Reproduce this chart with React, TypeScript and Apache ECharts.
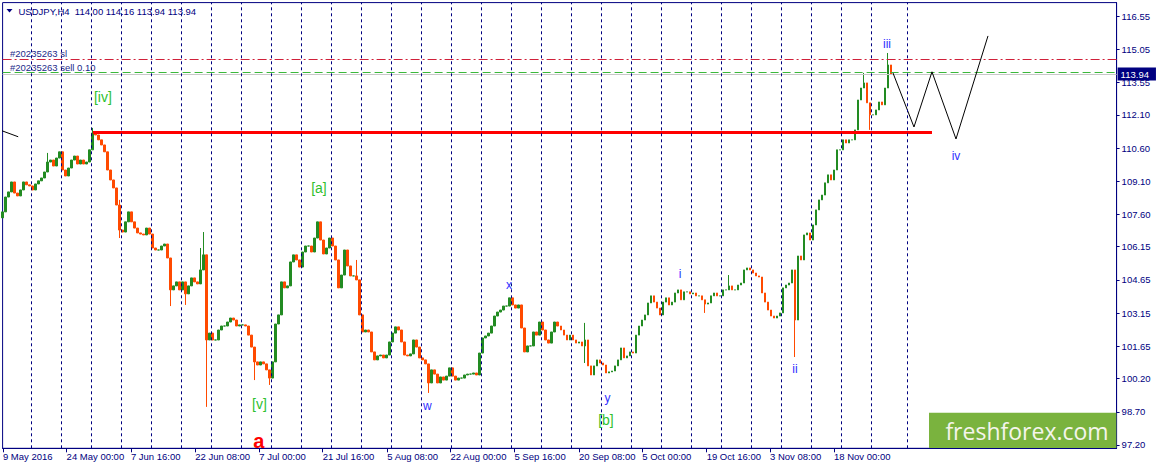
import React, { useEffect, useRef } from "react";
import * as echarts from "echarts";

// USDJPY H4 closes, one value per 3 H4 bars (12 hours) starting 9 May 2016
const closes: number[] = [
  107.72, 108.39, 108.62, 109.07, 108.57, 108.44, 108.71, 109.07, 108.94, 108.89,
  108.71, 108.98, 109.12, 109.25, 109.52, 109.97, 110.06, 109.79, 110.15, 110.43,
  109.61, 109.34, 109.70, 110.06, 110.24, 109.88, 110.06, 109.88, 109.97, 110.52,
  111.28, 111.19, 110.97, 110.74, 110.43, 109.61, 109.16, 108.80, 108.03, 106.90,
  106.81, 107.27, 107.72, 107.27, 106.99, 106.77, 106.72, 106.68, 106.99, 106.72,
  106.09, 106.00, 106.00, 106.18, 106.27, 105.64, 104.20, 104.38, 104.56, 104.20,
  104.56, 104.02, 104.38, 104.74, 104.56, 104.47, 105.10, 105.78, 101.94, 102.25,
  101.94, 101.94, 102.39, 102.57, 102.57, 102.75, 102.93, 102.84, 102.57, 102.62,
  102.62, 102.57, 102.16, 101.62, 100.95, 100.81, 100.95, 100.86, 100.59, 100.22,
  100.95, 102.66, 103.07, 104.56, 104.29, 104.38, 105.46, 105.78, 105.55, 105.23,
  105.91, 106.18, 106.18, 105.91, 106.54, 107.27, 106.45, 105.82, 106.09, 106.54,
  106.18, 105.55, 104.29, 104.87, 106.00, 105.28, 104.83, 104.83, 104.65, 103.07,
  102.30, 102.39, 102.30, 101.40, 101.04, 101.22, 101.26, 101.13, 101.26, 101.85,
  102.25, 102.53, 102.39, 101.85, 101.26, 101.22, 101.31, 101.94, 101.62, 101.13,
  101.04, 100.86, 100.00, 100.59, 100.40, 100.00, 100.27, 100.13, 100.31, 100.68,
  100.31, 100.13, 100.22, 100.22, 100.36, 100.40, 100.40, 100.45, 100.36, 101.35,
  102.03, 102.12, 102.25, 102.57, 103.02, 103.20, 103.29, 103.47, 103.47, 103.84,
  103.52, 103.38, 103.52, 102.48, 101.40, 101.67, 101.67, 102.30, 102.16, 102.75,
  102.39, 101.94, 101.80, 102.30, 102.75, 102.57, 102.39, 102.16, 101.94, 102.16,
  101.94, 101.80, 101.85, 101.67, 101.94, 100.77, 100.36, 100.77, 101.04, 100.90,
  100.81, 100.45, 100.50, 100.54, 100.77, 101.04, 101.58, 101.13, 101.22, 101.40,
  101.35, 102.16, 102.57, 102.84, 103.07, 103.61, 103.93, 103.65, 103.38, 103.07,
  103.65, 103.84, 103.52, 103.65, 104.06, 104.20, 103.75, 104.11, 104.11, 104.02,
  104.06, 103.93, 103.93, 103.75, 103.56, 103.61, 103.93, 104.06, 103.93, 103.93,
  104.20, 104.20, 104.38, 104.20, 104.20, 104.42, 104.51, 105.10, 105.19, 105.10,
  104.96, 104.83, 104.78, 104.06, 103.65, 103.29, 103.02, 102.93, 103.02, 103.16,
  104.29, 104.42, 104.51, 105.10, 102.84, 105.73, 105.55, 106.68, 106.77, 106.45,
  107.13, 107.81, 108.26, 108.48, 109.03, 109.39, 109.16, 109.61, 110.52, 110.52,
  110.97, 110.83, 110.97, 110.97, 111.42, 112.77, 113.31, 113.54, 112.64, 112.10,
  112.10, 112.32, 112.68, 112.55, 113.31, 114.35, 113.94,
];
const firstOpen = 107.45;
// [sample index, extreme price]
const wickHighs: [number, number][] = [
  [15, 110.38], [30, 111.51], [39, 108.26], [66, 106.09], [67, 106.81], [118, 105.55],
  [194, 102.71], [242, 104.87], [287, 113.99], [295, 114.89],
];
const wickLows: [number, number][] = [
  [39, 106.54], [56, 103.47], [61, 103.52], [68, 98.92], [84, 100.13], [89, 99.91],
  [142, 99.55], [194, 100.9], [234, 103.16], [264, 101.17], [289, 111.42],
];

const dateLabels = [
  "9 May 2016", "24 May 00:00", "7 Jun 16:00", "22 Jun 08:00", "7 Jul 00:00",
  "21 Jul 16:00", "5 Aug 08:00", "22 Aug 00:00", "5 Sep 16:00", "20 Sep 08:00",
  "5 Oct 00:00", "19 Oct 16:00", "3 Nov 08:00", "18 Nov 00:00",
];
const dateTicks = [3, 66.7, 131, 195.3, 259.3, 322.7, 387.3, 450.5, 514.5, 579, 642.3, 706.7, 770, 834];
const priceTicks = [97.2, 98.7, 100.2, 101.65, 103.15, 104.65, 106.15, 107.6, 109.1, 110.6, 112.1, 113.55, 115.05, 116.55];

const slPrice = 114.61;
const entryPrice = 114.0;
const bidPrice = 113.94;
const supportPrice = 111.3;
const supportFrom = 93;
const supportTo = 932;
const projTimes = [893, 914, 932, 956, 988];
const projPrices = [113.99, 111.55, 114.04, 111.01, 115.66];
const oldTrendTimes = [-10, 18.3];
const oldTrendPrices = [111.58, 111.11];

const waveTexts = ["[iv]", "[a]", "[v]", "[b]", "a", "w", "x", "y", "i", "ii", "iii", "iv"];
const waveTimes = [103, 319, 259.5, 606, 259, 427.5, 509, 607.5, 680, 795, 887, 956];
const wavePrices = [112.91, 108.8, 99.03, 98.33, 97.38, 98.96, 104.42, 99.32, 104.92, 100.63, 115.3, 110.24];
const waveKinds = ["g", "g", "g", "g", "r", "b", "b", "b", "b", "b", "b", "b"];

const NAVY = "#000080";
const FONT = "'Liberation Sans', Arial, sans-serif";

export default function App() {
  const ref = useRef<HTMLDivElement>(null);
  useEffect(() => {
    if (!ref.current) return;
    const chart = echarts.init(ref.current, undefined, { renderer: "svg" });

    const START = 3;
    const STEP = 3;
    const hiMap = new Map(wickHighs);
    const loMap = new Map(wickLows);
    const candles = closes.map((c, i) => {
      const o = i === 0 ? firstOpen : closes[i - 1];
      let h = Math.max(o, c);
      let l = Math.min(o, c);
      if (hiMap.has(i)) h = Math.max(h, hiMap.get(i) as number);
      if (loMap.has(i)) l = Math.min(l, loMap.get(i) as number);
      return [START + STEP * i, o, c, l, h];
    });

    const seps: number[] = [];
    for (let k = 1; k <= 29; k++) seps.push(1.5 + 30 * k);
    seps.push(907.5);

    const colorOf = (k: string) => (k === "g" ? "#2fbf2f" : k === "r" ? "#ff0000" : "#3030ff");
    const sizeOf = (k: string) => (k === "g" ? 14 : k === "r" ? 20 : 12);

    const option: any = {
      animation: false,
      backgroundColor: "#ffffff",
      grid: {
        left: 2.6, right: 39.4, top: 2.6, bottom: 20.7,
        show: true, borderColor: NAVY, borderWidth: 1,
        outerBoundsMode: "none", containLabel: false,
      },
      xAxis: {
        type: "value", min: 2.7, max: 1116.6,
        axisLine: { show: true, lineStyle: { color: NAVY } },
        axisTick: { show: true, customValues: dateTicks, length: 4, lineStyle: { color: NAVY } },
        axisLabel: {
          customValues: dateTicks, align: "left", margin: 3, color: NAVY, fontSize: 9.5, fontFamily: FONT,
          formatter: (v: number) => {
            const k = dateTicks.findIndex((t) => Math.abs(t - v) < 0.01);
            return k >= 0 ? dateLabels[k] : "";
          },
        },
        splitLine: { show: false },
      },
      yAxis: {
        type: "value", position: "right", min: 97.051, max: 117.164, scale: true,
        axisLine: { show: true, lineStyle: { color: NAVY } },
        axisTick: { show: true, customValues: priceTicks, length: 3, lineStyle: { color: NAVY } },
        axisLabel: {
          customValues: priceTicks, margin: 5, color: NAVY, fontSize: 9.5, fontFamily: FONT,
          formatter: (v: number) => v.toFixed(2),
        },
        splitLine: { show: false },
      },
      series: [
        {
          type: "line", data: [], z: 1, silent: true,
          markLine: {
            silent: true, symbol: ["none", "none"], label: { show: false },
            lineStyle: { color: NAVY, type: [3, 3], width: 1 },
            data: seps.map((v) => ({ xAxis: v })),
          },
        },
        {
          type: "candlestick", z: 2, barWidth: 2.4,
          encode: { x: 0, y: [1, 2, 3, 4] },
          data: candles,
          itemStyle: {
            color: "#228b22", color0: "#ff4a00",
            borderColor: "#228b22", borderColor0: "#ff4a00", borderWidth: 1,
          },
          markLine: {
            silent: true, symbol: ["none", "none"], label: { show: false }, z: 3,
            data: [
              { yAxis: slPrice, lineStyle: { color: "#d0203a", type: [9, 3, 2, 3], width: 1 } },
              { yAxis: entryPrice, lineStyle: { color: "#3cb83c", type: [8, 4], width: 1 } },
              {
                yAxis: bidPrice, lineStyle: { color: "#c8c8c8", type: "solid", width: 1 },
                label: {
                  show: true, position: "end", formatter: "113.94", distance: 1,
                  backgroundColor: NAVY, color: "#ffffff", fontSize: 9.5, fontFamily: FONT,
                  padding: [2, 7, 1, 3],
                },
              },
              [
                { coord: [supportFrom, supportPrice], lineStyle: { color: "#ff0000", width: 3, type: "solid" } },
                { coord: [supportTo, supportPrice] },
              ],
            ],
          },
        },
        {
          type: "line", z: 4, silent: true, symbol: "none",
          data: projTimes.map((t, i) => [t, projPrices[i]]),
          lineStyle: { color: "#000000", width: 1 },
        },
        {
          type: "line", z: 4, silent: true, symbol: "none",
          data: oldTrendTimes.map((t, i) => [t, oldTrendPrices[i]]),
          lineStyle: { color: "#000000", width: 1 },
        },
        {
          type: "scatter", z: 5, silent: true, symbolSize: 1,
          itemStyle: { color: "rgba(0,0,0,0)", opacity: 1 },
          data: waveTexts.map((t, i) => ({
            value: [waveTimes[i], wavePrices[i]], name: t,
            label: {
              show: true, position: "inside", formatter: t, opacity: 1,
              color: colorOf(waveKinds[i]), fontSize: sizeOf(waveKinds[i]),
              fontFamily: FONT, fontWeight: waveKinds[i] === "r" ? "bold" : "normal",
            },
          })),
        },
      ],
      graphic: [
        { type: "polygon", shape: { points: [[6.5, 9], [12.5, 9], [9.5, 12.5]] }, style: { fill: NAVY }, z: 10 },
        {
          type: "text", x: 18.5, y: 11, z: 10,
          style: {
            text: "USDJPY,H4  114.00 114.16 113.94 113.94", fill: NAVY, fontSize: 9.5, fontFamily: FONT,
            verticalAlign: "middle", align: "left",
          },
        },
        {
          type: "text", x: 10, y: 53.5, z: 10,
          style: { text: "#20235263 sl", fill: "#1c2a8a", fontSize: 9.5, fontFamily: FONT, verticalAlign: "middle" },
        },
        {
          type: "text", x: 10, y: 67.7, z: 10,
          style: { text: "#20235263 sell 0.10", fill: "#1c2a8a", fontSize: 9.5, fontFamily: FONT, verticalAlign: "middle" },
        },
        {
          type: "rect", shape: { x: 929, y: 412.7, width: 187.4, height: 35.4 }, style: { fill: "#7ab33e" }, z: 10,
        },
        {
          type: "text", x: 1027, y: 430.5, z: 11,
          style: {
            text: "freshforex.com", fill: "#f5f5ec", fontSize: 23, fontFamily: "'Open Sans', sans-serif",
            align: "center", verticalAlign: "middle",
          },
        },
      ],
    };
    chart.setOption(option);
    return () => chart.dispose();
  }, []);
  return (
    <div
      ref={ref}
      style={{ position: "fixed", left: 0, top: 0, width: 1156, height: 469, background: "#fff" }}
    />
  );
}
